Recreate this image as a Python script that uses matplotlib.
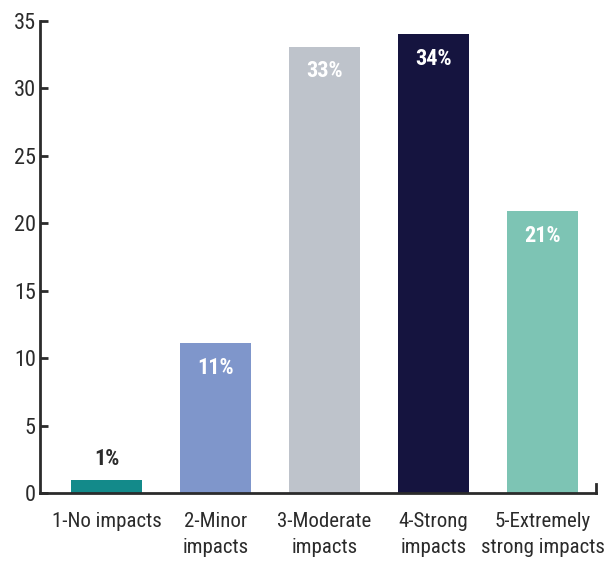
import matplotlib
matplotlib.use("Agg")
import matplotlib.pyplot as plt
from matplotlib import font_manager

categories = ["1-No impacts", "2-Minor\nimpacts", "3-Moderate\nimpacts", "4-Strong\nimpacts", "5-Extremely\nstrong impacts"]
values = [1.0, 11.1, 33.1, 34.0, 20.9]
labels = ["1%", "11%", "33%", "34%", "21%"]
colors = ["#138A8A", "#7F96CB", "#BEC3CB", "#15143F", "#7DC4B4"]
label_colors = ["#2b2b2b", "white", "white", "white", "white"]
yticks = [0, 5, 10, 15, 20, 25, 30, 35]

names = {f.name for f in font_manager.fontManager.ttflist}
fam = [f for f in ["Liberation Sans Narrow", "Roboto Condensed", "Open Sans Condensed", "Roboto"] if f in names] + ["DejaVu Sans"]
plt.rcParams['font.family'] = fam

fig = plt.figure(figsize=(6.04, 5.64), dpi=100)
ax = fig.add_axes([40/604, 71/564, 556/604, 472/564])
x = list(range(len(categories)))
ax.bar(x, values, width=0.65, color=colors)
for xi, v, lab, lc in zip(x, values, labels, label_colors):
    if v < 5:
        ax.text(xi, v + 0.7, lab, ha="center", va="bottom", color=lc, fontsize=16, fontweight="bold")
    else:
        ax.text(xi, v - 1.0, lab, ha="center", va="top", color=lc, fontsize=16, fontweight="bold")

ax.set_xlim(-0.61, 4.49)
ax.set_ylim(0, 35)
ax.set_yticks(yticks)
ax.set_xticks(x)
ax.set_xticklabels(categories, fontsize=15, color="#2b2b2b", linespacing=1.45)
ax.tick_params(axis="y", direction="in", length=6, width=2, labelsize=16, labelcolor="#2b2b2b", color="#2b2b2b", pad=3)
ax.tick_params(axis="x", length=0, pad=14)
for s in ["top", "right"]:
    ax.spines[s].set_visible(False)
for s in ["left", "bottom"]:
    ax.spines[s].set_linewidth(2)
    ax.spines[s].set_color("#2b2b2b")
ax.plot([1, 1], [0, 0.02], transform=ax.transAxes, color="#2b2b2b", lw=2, clip_on=False)
fig.savefig("out.png", dpi=100)
